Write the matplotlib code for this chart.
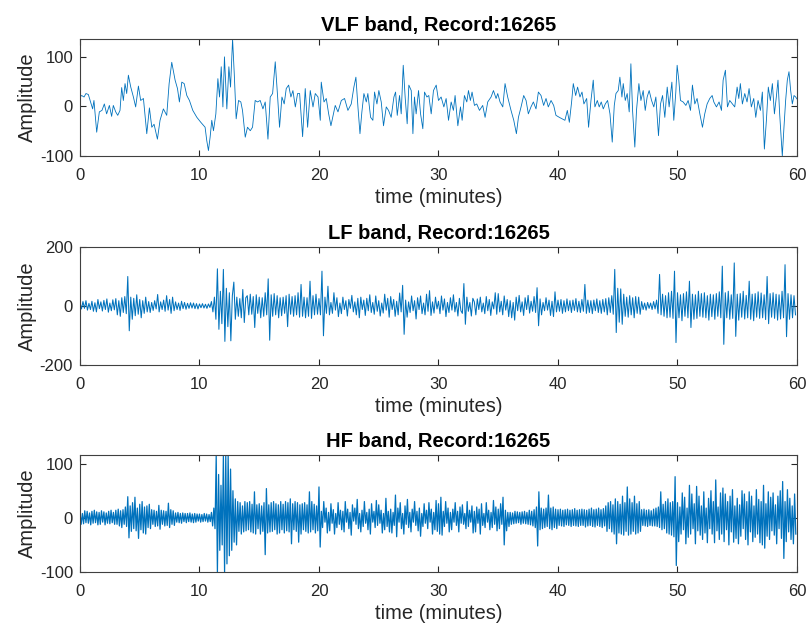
import numpy as np
import matplotlib
matplotlib.use('Agg')
import matplotlib.pyplot as plt

plt.rcParams['font.family'] = ['Liberation Sans', 'DejaVu Sans']
plt.rcParams['axes.unicode_minus'] = False

record = '16265'
line_color = '#0072BD'

# VLF band: turning points (minutes, amplitude)
vlf_t = [0, 0.14, 0.34, 0.50, 0.70, 0.89, 1.06, 1.17, 1.40, 1.62, 1.84, 2.04, 2.23, 2.46, 2.65,
         2.79, 2.99, 3.16, 3.35, 3.49, 3.63, 3.77, 3.91, 4.05, 4.25, 4.47, 4.66, 4.89, 5.08, 5.31,
         5.59, 5.81, 6.01, 6.20, 6.48, 6.70, 6.98, 7.26, 7.46, 7.68, 7.96, 8.16, 8.32, 8.52, 8.72,
         8.94, 9.16, 9.44, 9.78, 10.11, 10.47, 10.61, 10.75, 10.89, 11.03, 11.17, 11.37, 11.54,
         11.68, 11.82, 11.96, 12.09, 12.29, 12.46, 12.60, 12.77, 12.91, 13.07, 13.27, 13.46, 13.60,
         13.83, 14.02, 14.25, 14.44, 14.66, 14.86, 15.08, 15.31, 15.50, 15.73, 15.92, 16.12, 16.34,
         16.54, 16.70, 16.90, 17.09, 17.26, 17.46, 17.65, 17.82, 18.02, 18.21, 18.38, 18.63, 18.85,
         19.05, 19.27, 19.50, 19.69, 19.92, 20.11,
         20.19, 20.42, 20.61, 20.81, 21.0, 21.36, 21.59, 21.87, 22.14, 22.42, 22.70, 22.92, 23.09,
         23.26, 23.43, 23.59, 23.76, 23.96, 24.09, 24.32, 24.51, 24.65, 24.85, 25.01, 25.21, 25.40,
         25.63, 25.82, 26.04, 26.27, 26.41, 26.55, 26.74, 26.88, 27.05, 27.21, 27.38, 27.52, 27.72,
         27.86, 27.99, 28.13, 28.33, 28.50, 28.69, 28.83, 29.03, 29.19, 29.39, 29.58, 29.81, 30.0,
         30.22, 30.45, 30.64, 30.84, 31.06, 31.25, 31.39, 31.62, 31.84, 31.98, 32.17, 32.37, 32.51,
         32.67, 32.81, 33.01, 33.20, 33.43, 33.70, 33.90, 34.12, 34.40, 34.60, 34.82, 34.96, 35.15,
         35.38, 35.57, 35.79, 36.07, 36.30, 36.52, 36.69, 36.91, 37.13, 37.33, 37.52, 37.74, 37.94,
         38.16, 38.36, 38.58, 38.80, 39.0, 39.19, 39.42, 39.64, 39.83, 40.11,
         40.58, 40.78, 40.95, 41.14, 41.28, 41.48, 41.64, 41.84, 42.01, 42.17, 42.40, 42.56, 42.76,
         42.95, 43.09, 43.29, 43.45, 43.62, 43.79, 43.96, 44.15, 44.35, 44.54, 44.71, 44.85, 45.04,
         45.18, 45.35, 45.46, 45.63, 45.79, 45.96, 46.10, 46.24, 46.43, 46.57, 46.77, 46.94, 47.13,
         47.30, 47.46, 47.63, 47.83, 48.02, 48.19, 48.41, 48.58, 48.75, 48.94, 49.14, 49.30, 49.53,
         49.69, 49.86, 49.97, 50.11, 50.25, 50.47, 50.70, 50.89, 51.09, 51.25, 51.45, 51.64, 51.87,
         52.09, 52.28, 52.48, 52.70, 52.90, 53.04, 53.26, 53.48, 53.68, 53.82, 54.01, 54.18, 54.37,
         54.60, 54.79, 54.99, 55.13, 55.26, 55.43, 55.63, 55.82, 55.99, 56.18, 56.38, 56.55, 56.74,
         56.94, 57.10, 57.27, 57.44, 57.60, 57.77, 57.94, 58.11, 58.27, 58.41, 58.55, 58.77, 58.91,
         59.05, 59.19, 59.33, 59.47, 59.61, 59.75, 59.89, 60.0]
vlf = [19, 22, 19, 26, 24, 9, -5, 12, -52, -11, -8, 5, -15, 2, -20,
       2, -11, -18, -8, 38, 12, 46, 26, 63, 39, 19, -1, 41, 12, 16,
       -55, -3, -42, -36, -66, -28, -5, -18, 46, 89, 53, 36, 9, 49, 46,
       22, 12, -8, -22, -32, -42, -69, -89, -62, -28, -49, -15, 56,
       19, 80, -1, 100, -5, 80, 39, 136, 66, -25, 12, 9, -8,
       -62, -42, -49, -42, 12, 9, 12, -5, 9, -66, 19, 26, 90,
       19, -42, 19, 5, 36, 43, 19, 32, -1, 26, 26, -61, 36,
       -42, 32, -1, 26, 19, -28,
       49, 9, 16, -15, -39, 2, -11, 12, 16, -8, 5, 39, 59,
       -1, -55, -11, 26, 9, 26, -22, -28, 29, 5, 32, 9, -39,
       -1, -8, -22, 19, 29, -18, 22, -15, 83, 19, -35, 43, 32,
       -55, 19, -15, 32, -15, -45, 29, 19, 22, -15, 32, 43, 12,
       19, -1, 16, -28, 9, -8, 22, -39, -1, -28, 22, 9, 32,
       12, 29, 2, 5, -8, 2, -22, 9, 19, 32, 16, 26, 9,
       -1, 46, 19, -8, -28, -55, -22, -1, 22, 12, -15, -1, 9,
       -5, 29, 22, 2, 16, -1, 12, 2, -18, -22,
       -28, -8, -32, 9, 46, 22, 39, 19, 29, 5, 16, -42, 12,
       53, -1, 12, -1, 9, -5, 5, 12, -15, -72, 2, 26, 32,
       59, 19, 46, 12, 26, -11, 86, -8, -82, -8, 46, 12, 32,
       -8, 19, 32, 12, -1, 19, -59, 5, 22, -22, 39, -1, 49,
       -28, 29, 83, 53, 12, 9, 2, 12, -8, 43, 5, 16, -15,
       -42, -15, 5, 16, 22, 9, -1, 9, -8, 53, 73, -1, 12,
       5, -1, 39, 16, 46, 5, 26, 9, 36, -1, 16, -22, 12,
       -8, 29, -86, -28, 39, 12, 46, -15, 19, 53, -15, -100, -42,
       12, 53, 70, 32, 5, 22, 19, 15]

# LF band: 8 turning points per minute
lf_per_min = 8
lf = [12, -10, 15, -8, 18, -14, 9, -12,
      16, -18, 11, -20, 22, -9, 14, -17,
      19, -12, 24, -21, 10, -16, 21, -13,
      25, -30, 18, -35, 28, -22, 32, -26,
      100, -84, 30, -45, 26, -33, 38, -28,
      22, -40, 18, -25, 30, -20, 15, -22,
      12, -15, 18, -10, 39, -20, 14, -12,
      20, -18, 35, -14, 22, -25, 30, -16,
      14, -12, 10, -15, 16, -9, 12, -11,
      9, -8, 11, -7, 10, -9, 8, -10,
      7, -6, 8, -7, 6, -8, 7, -5,
      15, -20, 30, -45, 126, -79, 50, -60,
      124, -120, 60, -70, 45, -118, 35, 81,
      -45, 30, -35, 25, -40, 56, -56, 28,
      35, -30, 40, -28, 32, -73, 38, -25,
      30, -40, 28, -35, 45, -30, 92, -116,
      38, -35, 42, -30, 35, -40, 28, -33,
      30, -25, 35, -70, 40, -28, 32, -35,
      35, -30, 45, -38, 73, -35, 30, -40,
      28, -35, 84, -42, 35, -30, 40, -28,
      25, -30, 118, -101, 30, -25, 67, -30,
      12, -25, 45, -14, 28, -36, 10, -26,
      30, -12, 18, -34, 22, -8, 36, -20,
      14, -30, 26, -40, 30, -12, 20, -32,
      26, -16, 38, -22, 12, -28, 34, -18,
      18, -34, 10, -24, 40, -14, 26, -38,
      32, -12, 22, -35, 16, -30, 44, -20,
      70, -96, 20, -38, 14, -22, 34, -16,
      18, -44, 28, -12, 34, -26, 10, -30,
      40, -18, 52, -32, 14, -24, 30, -10,
      16, -26, 34, -14, 24, -36, 12, -22,
      28, -14, 38, -20, 12, -34, 26, -16,
      -25, 76, -62, 30, -18, 12, -34, 26,
      14, -30, 24, -12, 30, -20, 10, -26,
      32, -16, 22, -32, 14, -10, 45, -28,
      42, -20, 16, -30, 34, -14, 22, -36,
      18, -40, 12, -48, 30, -16, 36, -20,
      14, -32, 28, -12, 36, -24, 16, -18,
      32, -22, 62, -67, 24, -30, 12, -16,
      28, -14, 20, -32, 16, -36, 48, -20,
      20, -18, 22, -25, 18, -20, 24, -16,
      18, -22, 20, -15, 25, -20, 16, -22,
      22, -18, 73, -25, 20, -22, 18, -26,
      20, -16, 24, -22, 18, -25, 22, -20,
      25, -30, 28, -22, 35, -28, 124, -90,
      60, -55, 58, -62, 40, -35, 30, -38,
      35, -30, 28, -40, 32, -25, 30, -28,
      15, -12, 10, -14, 12, -8, 10, -12,
      15, -10, 20, -25, 107, -30, 40, -35,
      35, -40, 45, -38, 50, -42, 118, -124,
      45, -40, 38, -50, 42, -35, 48, -40,
      84, -73, 40, -45, 38, -42, 50, -35,
      42, -38, 45, -40, 35, -48, 40, -36,
      38, -45, 42, -35, 48, -40, 135, -130,
      45, -40, 50, -45, 38, -42, 146, -103,
      40, -48, 42, -38, 50, -44, 36, -40,
      84, -45, 40, -50, 42, -38, 48, -42,
      44, -40, 38, -46, 100, -60, 42, -38,
      45, -42, 40, -48, 38, -44, 50, -40,
      140, -104, 42, -45, 38, -40, 35, -30]

# HF band: 10 turning points per minute
hf_per_min = 10
hf = [10, -12, 8, -11, 13, -9, 12, -10, 9, -13,
      12, -10, 14, -9, 11, -13, 10, -12, 13, -8,
      11, -13, 9, -10, 12, -11, 14, -9, 10, -12,
      14, -12, 16, -15, 13, -18, 15, -12, 20, -16,
      39, -37, 22, -25, 28, -20, 38, -24, 18, -38,
      25, -22, 30, -28, 20, -30, 22, -18, 25, -20,
      15, -12, 14, -16, 12, -15, 23, -21, 14, -12,
      13, -15, 12, -14, 27, -18, 15, -12, 13, -14,
      9, -8, 10, -9, 8, -10, 9, -7, 8, -9,
      8, -7, 9, -8, 7, -9, 8, -8, 7, -6,
      7, -8, 6, -7, 8, -6, 7, -8, 6, -7,
      10, -15, 18, -20, 116, -100, 80, -60, 60, -50,
      116, -100, 116, -85, 116, -70, 90, -60, 50, -45,
      35, -50, 30, -25, 28, -30, 22, -26, 30, -24,
      28, -22, 30, -26, 25, -28, 48, -30, 24, -20,
      26, -30, 22, -25, 28, -68, 54, -28, 24, -26,
      28, -25, 30, -22, 26, -30, 24, -28, 30, -22,
      25, -28, 30, -24, 28, -26, 35, -48, 26, -22,
      30, -25, 28, -45, 24, -30, 26, -22, 28, -25,
      24, -28, 48, -26, 30, -22, 25, -28, 22, -24,
      57, -54, 12, -18, 30, -8, 18, -28, 10, -24,
      26, -10, 15, -30, 8, -18, 28, -12, 14, -22,
      12, -26, 30, -8, 16, -20, 10, -32, 24, -6,
      18, -12, 34, -20, 8, -26, 14, -16, 30, -10,
      10, -22, 16, -30, 26, -8, 12, -18, 32, -14,
      24, -10, 14, -28, 8, -22, 36, -16, 12, -26,
      16, -28, 10, -14, 42, -35, 18, -8, 28, -20,
      8, -30, 22, -12, 34, -18, 10, -26, 16, -8,
      30, -14, 12, -24, 18, -34, 8, -16, 26, -10,
      14, -20, 28, -8, 16, -30, 10, -22, 32, -25,
      26, -30, 38, -32, 12, -16, 30, -10, 18, -26,
      10, -22, 16, -8, 28, -14, 12, -26, 20, -10,
      24, -12, 8, -20, 30, -16, 14, -8, 22, -28,
      12, -26, 20, -10, 16, -30, 26, -14, 8, -18,
      28, -8, 14, -22, 10, -18, 32, -12, 20, -24,
      16, -20, 26, -12, 38, -50, 14, -24, 10, -16,
      10, -12, 9, -11, 12, -10, 11, -9, 10, -12,
      11, -10, 12, -11, 10, -12, 14, -13, 12, -15,
      15, -18, 20, -52, 48, -22, 18, -20, 16, -18,
      18, -16, 42, -20, 18, -22, 20, -18, 16, -20,
      15, -14, 16, -15, 14, -16, 15, -13, 16, -14,
      14, -16, 15, -14, 17, -15, 14, -16, 15, -14,
      16, -14, 15, -17, 14, -15, 16, -14, 18, -16,
      15, -17, 16, -14, 18, -16, 15, -18, 17, -15,
      22, -25, 28, -20, 30, -26, 24, -30, 35, -48,
      30, -28, 25, -30, 40, -32, 28, -25, 57, -32,
      35, -30, 28, -25, 40, -30, 26, -28, 30, -25,
      15, -14, 16, -15, 14, -16, 15, -14, 13, -15,
      16, -15, 18, -16, 20, -18, 48, -22, 25, -20,
      30, -28, 35, -30, 28, -32, 30, -35, 76, -88,
      28, -44, 20, -30, 46, -22, 38, -48, 18, -36,
      60, -30, 44, -20, 26, -48, 58, -24, 40, -32,
      22, -40, 48, -28, 18, -46, 36, -20, 50, -30,
      30, -46, 70, -24, 20, -40, 46, -30, 55, -44,
      44, -22, 30, -50, 40, -26, 52, -45, 22, -38,
      36, -48, 24, -34, 50, -20, 44, -40, 30, -50,
      48, -26, 40, -44, 22, -36, 52, -30, 34, -46,
      30, -50, 60, -56, 26, -34, 48, -40, 38, -24,
      46, -32, 24, -48, 40, -20, 50, -38, 67, -75,
      30, -44, 52, -26, 36, -40, 22, -48, 44, -30]

lf_t = np.arange(len(lf)) / lf_per_min
hf_t = np.arange(len(hf)) / hf_per_min

fig = plt.figure(figsize=(8.07, 6.28), dpi=100)

panels = [
    ('VLF', vlf_t, vlf, 0.6, [0.0991, 0.7516, 0.8885, 0.1863], (min(vlf), max(vlf)), [-100, 0, 100]),
    ('LF', lf_t, lf, 0.75, [0.0991, 0.4188, 0.8885, 0.1879], (-200, 200), [-200, 0, 200]),
    ('HF', hf_t, hf, 0.9, [0.0991, 0.0892, 0.8885, 0.1863], (min(hf), max(hf)), [-100, 0, 100]),
]

for name, t, y, lw, pos, ylim, yticks in panels:
    ax = fig.add_axes(pos)
    ax.plot(t, y, color=line_color, lw=lw)
    ax.set_xlim(0, 60)
    ax.set_ylim(*ylim)
    ax.set_xticks(range(0, 61, 10))
    ax.set_yticks(yticks)
    ax.tick_params(direction='in', length=4, width=0.8, top=True, right=True,
                   labelsize=12, colors='#262626')
    ax.tick_params(axis='x', pad=9)
    ax.tick_params(axis='y', pad=5)
    for s in ax.spines.values():
        s.set_color('#404040')
        s.set_linewidth(0.8)
    ax.set_title(name + ' band, Record:' + record, fontsize=14.5, fontweight='bold', pad=6)
    ax.set_xlabel('time (minutes)', fontsize=14.5, color='#262626', labelpad=3)
    ax.set_ylabel('Amplitude', fontsize=14.5, color='#262626', labelpad=2)

fig.savefig('out.png', dpi=100)
